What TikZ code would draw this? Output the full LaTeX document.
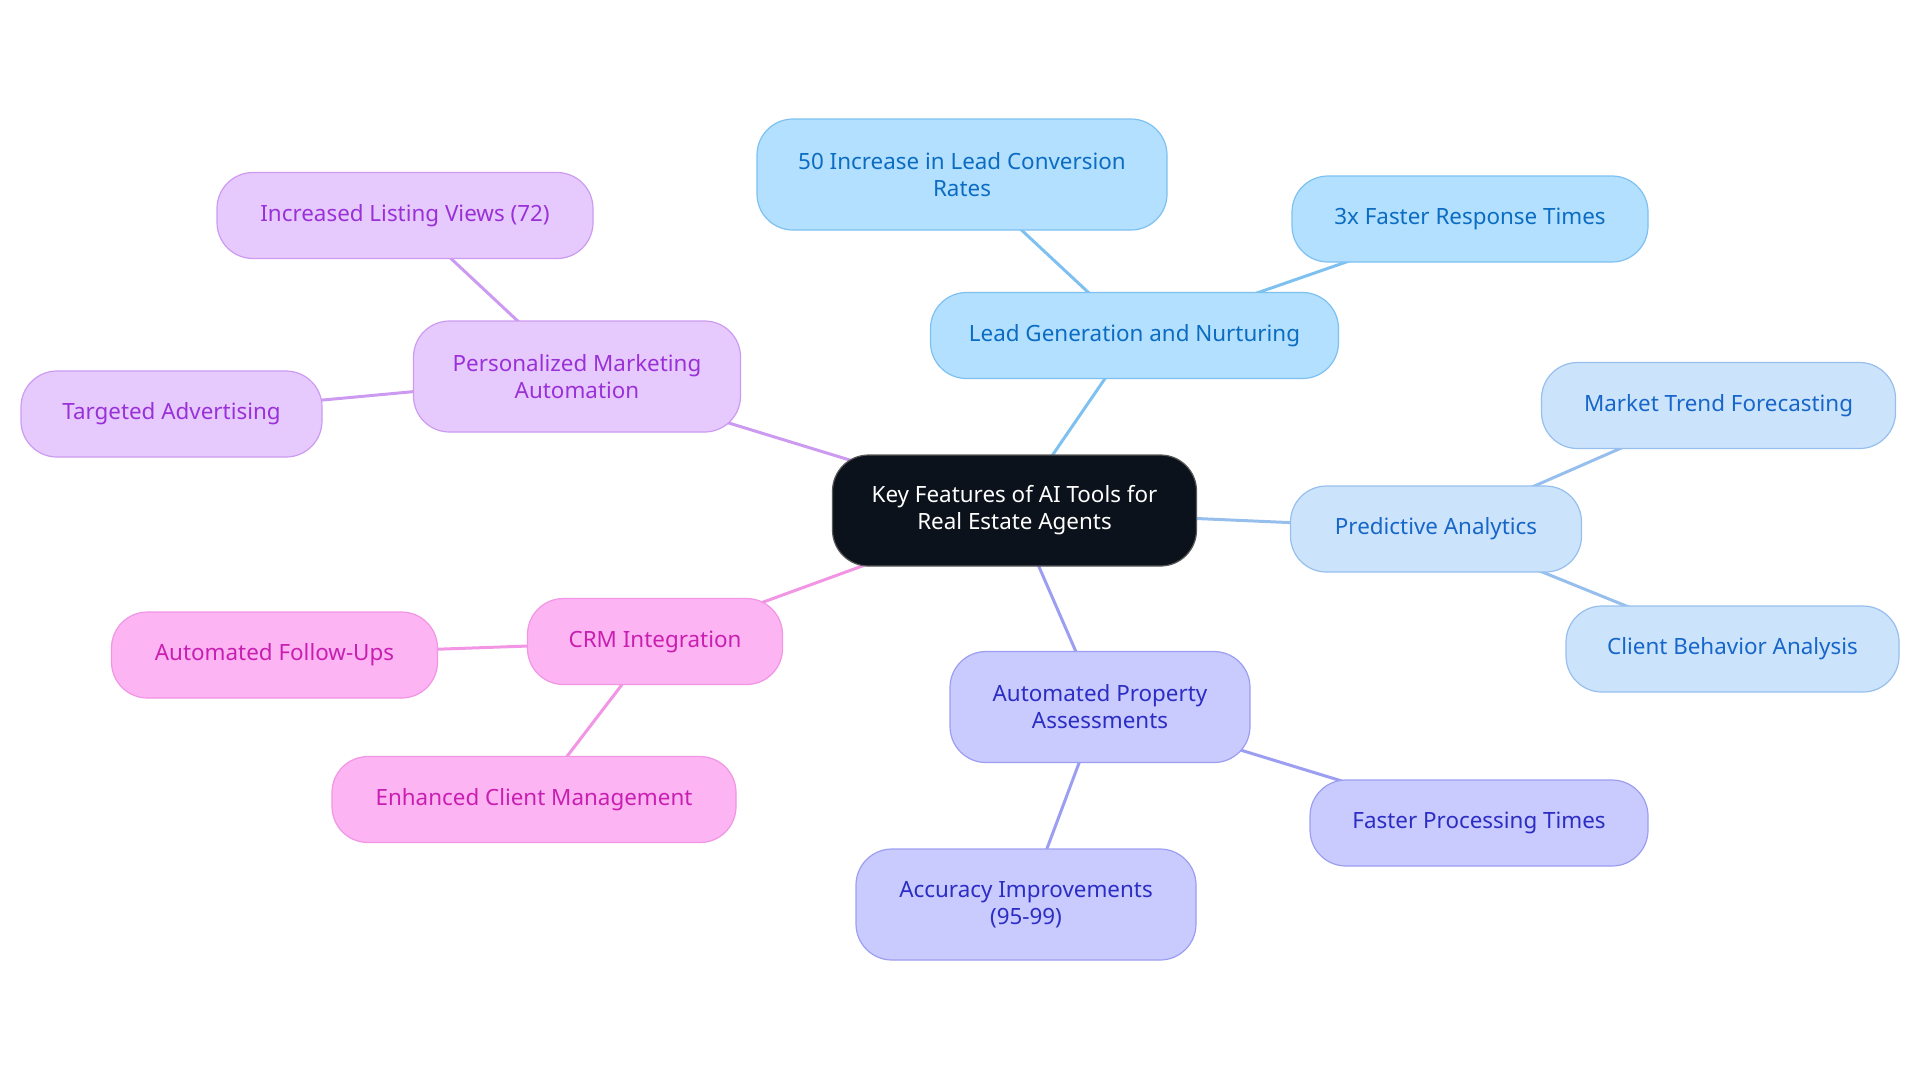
\documentclass[tikz,border=0pt]{standalone}
\usepackage{fontspec}
\setmainfont{Noto Sans}
\usepackage{xcolor}
\usepackage{tikz}
\usetikzlibrary{positioning, backgrounds}
\definecolor{rootfill}{HTML}{0C121B}
\definecolor{leadfill}{HTML}{B3E0FE}
\definecolor{leaddraw}{HTML}{7EC1F1}
\definecolor{leadtext}{HTML}{0B6CC2}
\definecolor{predfill}{HTML}{CCE4FB}
\definecolor{preddraw}{HTML}{96BFED}
\definecolor{predtext}{HTML}{1766C9}
\definecolor{propfill}{HTML}{C9CAFD}
\definecolor{propdraw}{HTML}{9C9EF1}
\definecolor{proptext}{HTML}{2B2DC3}
\definecolor{crmfill}{HTML}{FDB4F3}
\definecolor{crmdraw}{HTML}{F195E4}
\definecolor{crmtext}{HTML}{C81FB1}
\definecolor{mktfill}{HTML}{E7CAFD}
\definecolor{mktdraw}{HTML}{CC9BF1}
\definecolor{mkttext}{HTML}{9A31D8}
\tikzset{
    mapbox/.style={rectangle, rounded corners=18pt, minimum height=43pt,
        align=center, font=\fontsize{11.2}{13.5}\selectfont, line width=0.6pt, inner sep=4pt},
    tallbox/.style={minimum height=55.5pt},
    rootbox/.style={mapbox, draw=gray!70!black, fill=rootfill, text=white},
    leadbox/.style={mapbox, draw=leaddraw, fill=leadfill, text=leadtext},
    predbox/.style={mapbox, draw=preddraw, fill=predfill, text=predtext},
    propbox/.style={mapbox, draw=propdraw, fill=propfill, text=proptext},
    crmbox/.style={mapbox, draw=crmdraw, fill=crmfill, text=crmtext},
    mktbox/.style={mapbox, draw=mktdraw, fill=mktfill, text=mkttext},
    maplink/.style={line width=1.5pt},
}

\begin{document}
\begin{tikzpicture}[x=0.5pt, y=-0.5pt]
    \useasboundingbox (0,0) rectangle (1920,1083);
    % root and main branches
    \node[rootbox, tallbox, minimum width=182pt] (root) at (1014.5,510.5) {Key Features of AI Tools for\\Real Estate Agents};
    \node[leadbox, minimum width=204pt] (lead) at (1134.5,335.5) {Lead Generation and Nurturing};
    \node[predbox, minimum width=145.5pt] (pred) at (1436,529) {Predictive Analytics};
    \node[propbox, tallbox, minimum width=150pt] (prop) at (1100,707) {Automated Property\\Assessments};
    \node[crmbox, minimum width=127.5pt] (crm) at (655,641.5) {CRM Integration};
    \node[mktbox, tallbox, minimum width=163.5pt] (mkt) at (577,376.5) {Personalized Marketing\\Automation};

    % leaves
    \node[leadbox, tallbox, minimum width=205pt] (lead1) at (962,174.5) {50 Increase in Lead Conversion\\Rates};
    \node[leadbox, minimum width=178pt] (lead2) at (1470,219) {3x Faster Response Times};
    \node[predbox, minimum width=177pt] (pred1) at (1718.5,405.5) {Market Trend Forecasting};
    \node[predbox, minimum width=166.5pt] (pred2) at (1732.5,649) {Client Behavior Analysis};
    \node[propbox, minimum width=169pt] (prop1) at (1479,823) {Faster Processing Times};
    \node[propbox, tallbox, minimum width=170pt] (prop2) at (1026,904.5) {Accuracy Improvements\\(95-99)};
    \node[crmbox, minimum width=163pt] (crm1) at (274.5,655) {Automated Follow-Ups};
    \node[crmbox, minimum width=202pt] (crm2) at (534,799.5) {Enhanced Client Management};
    \node[mktbox, minimum width=188pt] (mkt1) at (405,215.5) {Increased Listing Views (72)};
    \node[mktbox, minimum width=150.5pt] (mkt2) at (171.5,414) {Targeted Advertising};

    % connectors, behind the boxes
    \begin{scope}[on background layer]
    \draw[maplink, leaddraw] (root.center) -- (lead.center);
    \draw[maplink, leaddraw] (lead.center) -- (lead1.center);
    \draw[maplink, leaddraw] (lead.center) -- (lead2.center);
    \draw[maplink, preddraw] (root.center) -- (pred.center);
    \draw[maplink, preddraw] (pred.center) -- (pred1.center);
    \draw[maplink, preddraw] (pred.center) -- (pred2.center);
    \draw[maplink, propdraw] (root.center) -- (prop.center);
    \draw[maplink, propdraw] (prop.center) -- (prop1.center);
    \draw[maplink, propdraw] (prop.center) -- (prop2.center);
    \draw[maplink, crmdraw] (root.center) -- (crm.center);
    \draw[maplink, crmdraw] (crm.center) -- (crm1.center);
    \draw[maplink, crmdraw] (crm.center) -- (crm2.center);
    \draw[maplink, mktdraw] (root.center) -- (mkt.center);
    \draw[maplink, mktdraw] (mkt.center) -- (mkt1.center);
    \draw[maplink, mktdraw] (mkt.center) -- (mkt2.center);
    \end{scope}
\end{tikzpicture}
\end{document}
